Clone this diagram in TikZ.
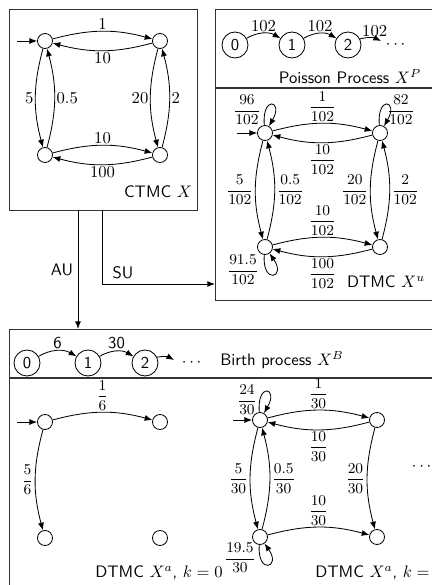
\documentclass[tikz,border=0pt]{standalone}
\usepackage{amsmath}
\usetikzlibrary{arrows.meta}
\begin{document}
\begin{tikzpicture}[x=0.6pt,y=0.6pt,
  st/.style={circle,draw,line width=0.5pt,inner sep=0pt,minimum size=9pt},
  pst/.style={circle,draw,line width=0.5pt,inner sep=0pt,minimum size=15.6pt,font=\sffamily},
  box/.style={draw=black!80,line width=0.8pt,anchor=north west,inner sep=0pt},
  boxline/.style={draw=black!80,line width=0.8pt},
  arr/.style={-{Latex[length=4.6pt,width=3.6pt]},line width=0.5pt},
  lab/.style={inner sep=1pt},
  fr/.style={inner sep=1pt,font=\small},
  txt/.style={font=\sffamily,inner sep=0pt},
  lp/.style={min distance=18pt,looseness=8}
]
\useasboundingbox (0,0) rectangle (432,-585);
\clip (0,0) rectangle (432,-585);

% ---------- boxes
\node[box,minimum width=112.8pt,minimum height=120.6pt] (ctmc) at (9,-9) {};
\node[box,minimum width=153pt,minimum height=174.6pt] (up) at (215,-9) {};
\node[box,minimum width=276.6pt,minimum height=192.6pt] (bot) at (9,-329) {};
\draw[boxline] (up.west |- 0,-88) -- (up.east |- 0,-88);
\draw[boxline] (bot.west |- 0,-378) -- (bot.east |- 0,-378);

% ---------- CTMC
\node[st] (c1) at (45,-41) {};
\node[st] (c2) at (160,-41) {};
\node[st] (c3) at (45,-155) {};
\node[st] (c4) at (160,-155) {};
\coordinate (c0) at (17,-41);
\draw[arr] (c0) -- (c1);
\draw[arr] (c1) to[bend left=15] node[lab,above] {$1$} (c2);
\draw[arr] (c2) to[bend left=15] node[lab,below] {$10$} (c1);
\draw[arr] (c1) to[bend right=15] node[lab,left] {$5$} (c3);
\draw[arr] (c3) to[bend right=15] node[lab,right] {$0.5$} (c1);
\draw[arr] (c2) to[bend right=15] node[lab,left] {$20$} (c4);
\draw[arr] (c4) to[bend right=15] node[lab,right] {$2$} (c2);
\draw[arr] (c3) to[bend left=15] node[lab,above] {$10$} (c4);
\draw[arr] (c4) to[bend left=15] node[lab,below] {$100$} (c3);
\node[txt] (tctmc) at (158,-192) {CTMC $X$};

% ---------- Poisson
\node[pst] (p0) at (235,-45) {0};
\node[pst] (p1) at (292,-45) {1};
\node[pst] (p2) at (348,-45) {2};
\coordinate (p3) at (381,-41);
\draw[arr] (p0) to[bend left=30] node[lab,above] {$102$} (p1);
\draw[arr] (p1) to[bend left=30] node[lab,above] {$102$} (p2);
\draw[arr] (p2) to[bend left=20] node[lab,above,pos=0.7] {$102$} (p3);
\node[lab] (pdots) at (397,-45) {$\cdots$};
\node[txt] (tpois) at (350,-77) {Poisson Process $X^P$};

% ---------- DTMC X^u
\node[st] (u1) at (265,-133) {};
\node[st] (u2) at (380,-133) {};
\node[st] (u3) at (265,-247) {};
\node[st] (u4) at (380,-247) {};
\coordinate (u0) at (237,-133);
\draw[arr] (u0) -- (u1);
\draw[arr] (u1) to[bend left=15] node[fr,above] {$\dfrac{1}{102}$} (u2);
\draw[arr] (u2) to[bend left=15] node[fr,below] {$\dfrac{10}{102}$} (u1);
\draw[arr] (u1) to[bend right=15] node[fr,left] {$\dfrac{5}{102}$} (u3);
\draw[arr] (u3) to[bend right=15] node[fr,right] {$\dfrac{0.5}{102}$} (u1);
\draw[arr] (u2) to[bend right=15] node[fr,left] {$\dfrac{20}{102}$} (u4);
\draw[arr] (u4) to[bend right=15] node[fr,right] {$\dfrac{2}{102}$} (u2);
\draw[arr] (u3) to[bend left=15] node[fr,above] {$\dfrac{10}{102}$} (u4);
\draw[arr] (u4) to[bend left=15] node[fr,below] {$\dfrac{100}{102}$} (u3);
\draw[arr] (u1) to[lp,out=95,in=60] (u1);
\draw[arr] (u2) to[lp,out=95,in=60] (u2);
\draw[arr] (u3) to[lp,out=-95,in=-55] (u3);
\node[fr] (lu1) at (247,-110) {$\dfrac{96}{102}$};
\node[fr] (lu2) at (401,-110) {$\dfrac{82}{102}$};
\node[fr] (lu3) at (243,-270) {$\dfrac{91.5}{102}$};
\node[txt] (tdu) at (386,-282) {DTMC $X^u$};

% ---------- connectors between boxes
\coordinate (auA) at (78,-210);
\coordinate (suA) at (102,-210);
\coordinate (suB) at (215,-284);
\draw[arr] (auA) -- (auA |- bot.north);
\draw[arr] (suA) |- (suB);
\node[txt] (tau) at (62,-270) {AU};
\node[txt] (tsu) at (123,-273) {SU};

% ---------- Birth process
\node[pst] (b0) at (27,-363) {0};
\node[pst] (b1) at (88,-363) {1};
\node[pst] (b2) at (145,-363) {2};
\coordinate (b3) at (174,-360);
\draw[arr] (b0) to[bend left=30] node[lab,above,font=\sffamily] {6} (b1);
\draw[arr] (b1) to[bend left=30] node[lab,above,font=\sffamily] {30} (b2);
\draw[arr] (b2) to[bend left=20] (b3);
\node[lab] (bdots) at (193,-363) {$\cdots$};
\node[txt] (tbirth) at (282,-360) {Birth process $X^B$};

% ---------- DTMC X^a, k=0
\node[st] (a1) at (45,-422) {};
\node[st] (a2) at (160,-422) {};
\node[st] (a3) at (45,-538) {};
\node[st] (a4) at (160,-538) {};
\coordinate (a0) at (17,-422);
\draw[arr] (a0) -- (a1);
\draw[arr] (a1) to[bend left=15] node[fr,above] {$\dfrac{1}{6}$} (a2);
\draw[arr] (a1) to[bend right=15] node[fr,left] {$\dfrac{5}{6}$} (a3);
\node[txt] (tda0) at (159,-573) {DTMC $X^a$, $k=0$};

% ---------- DTMC X^a, k=1
\node[st] (d1) at (260,-420) {};
\node[st] (d2) at (377,-420) {};
\node[st] (d3) at (260,-537) {};
\node[st] (d4) at (377,-537) {};
\coordinate (d0) at (233,-420);
\draw[arr] (d0) -- (d1);
\draw[arr] (d1) to[bend left=15] node[fr,above] {$\dfrac{1}{30}$} (d2);
\draw[arr] (d2) to[bend left=15] node[fr,below] {$\dfrac{10}{30}$} (d1);
\draw[arr] (d1) to[bend right=15] node[fr,left] {$\dfrac{5}{30}$} (d3);
\draw[arr] (d3) to[bend right=15] node[fr,right] {$\dfrac{0.5}{30}$} (d1);
\draw[arr] (d2) to[bend right=15] node[fr,left] {$\dfrac{20}{30}$} (d4);
\draw[arr] (d3) to[bend left=15] node[fr,above] {$\dfrac{10}{30}$} (d4);
\draw[arr] (d1) to[lp,out=95,in=60] (d1);
\draw[arr] (d3) to[lp,out=-95,in=-55] (d3);
\node[fr] (ld1) at (247,-400) {$\dfrac{24}{30}$};
\node[fr] (ld3) at (240,-558) {$\dfrac{19.5}{30}$};
\node[lab] (ddots) at (423,-467) {$\cdots$};
\node[txt,anchor=west] (tda1) at (315,-573) {DTMC $X^a$, $k=1$};
\end{tikzpicture}
\end{document}
